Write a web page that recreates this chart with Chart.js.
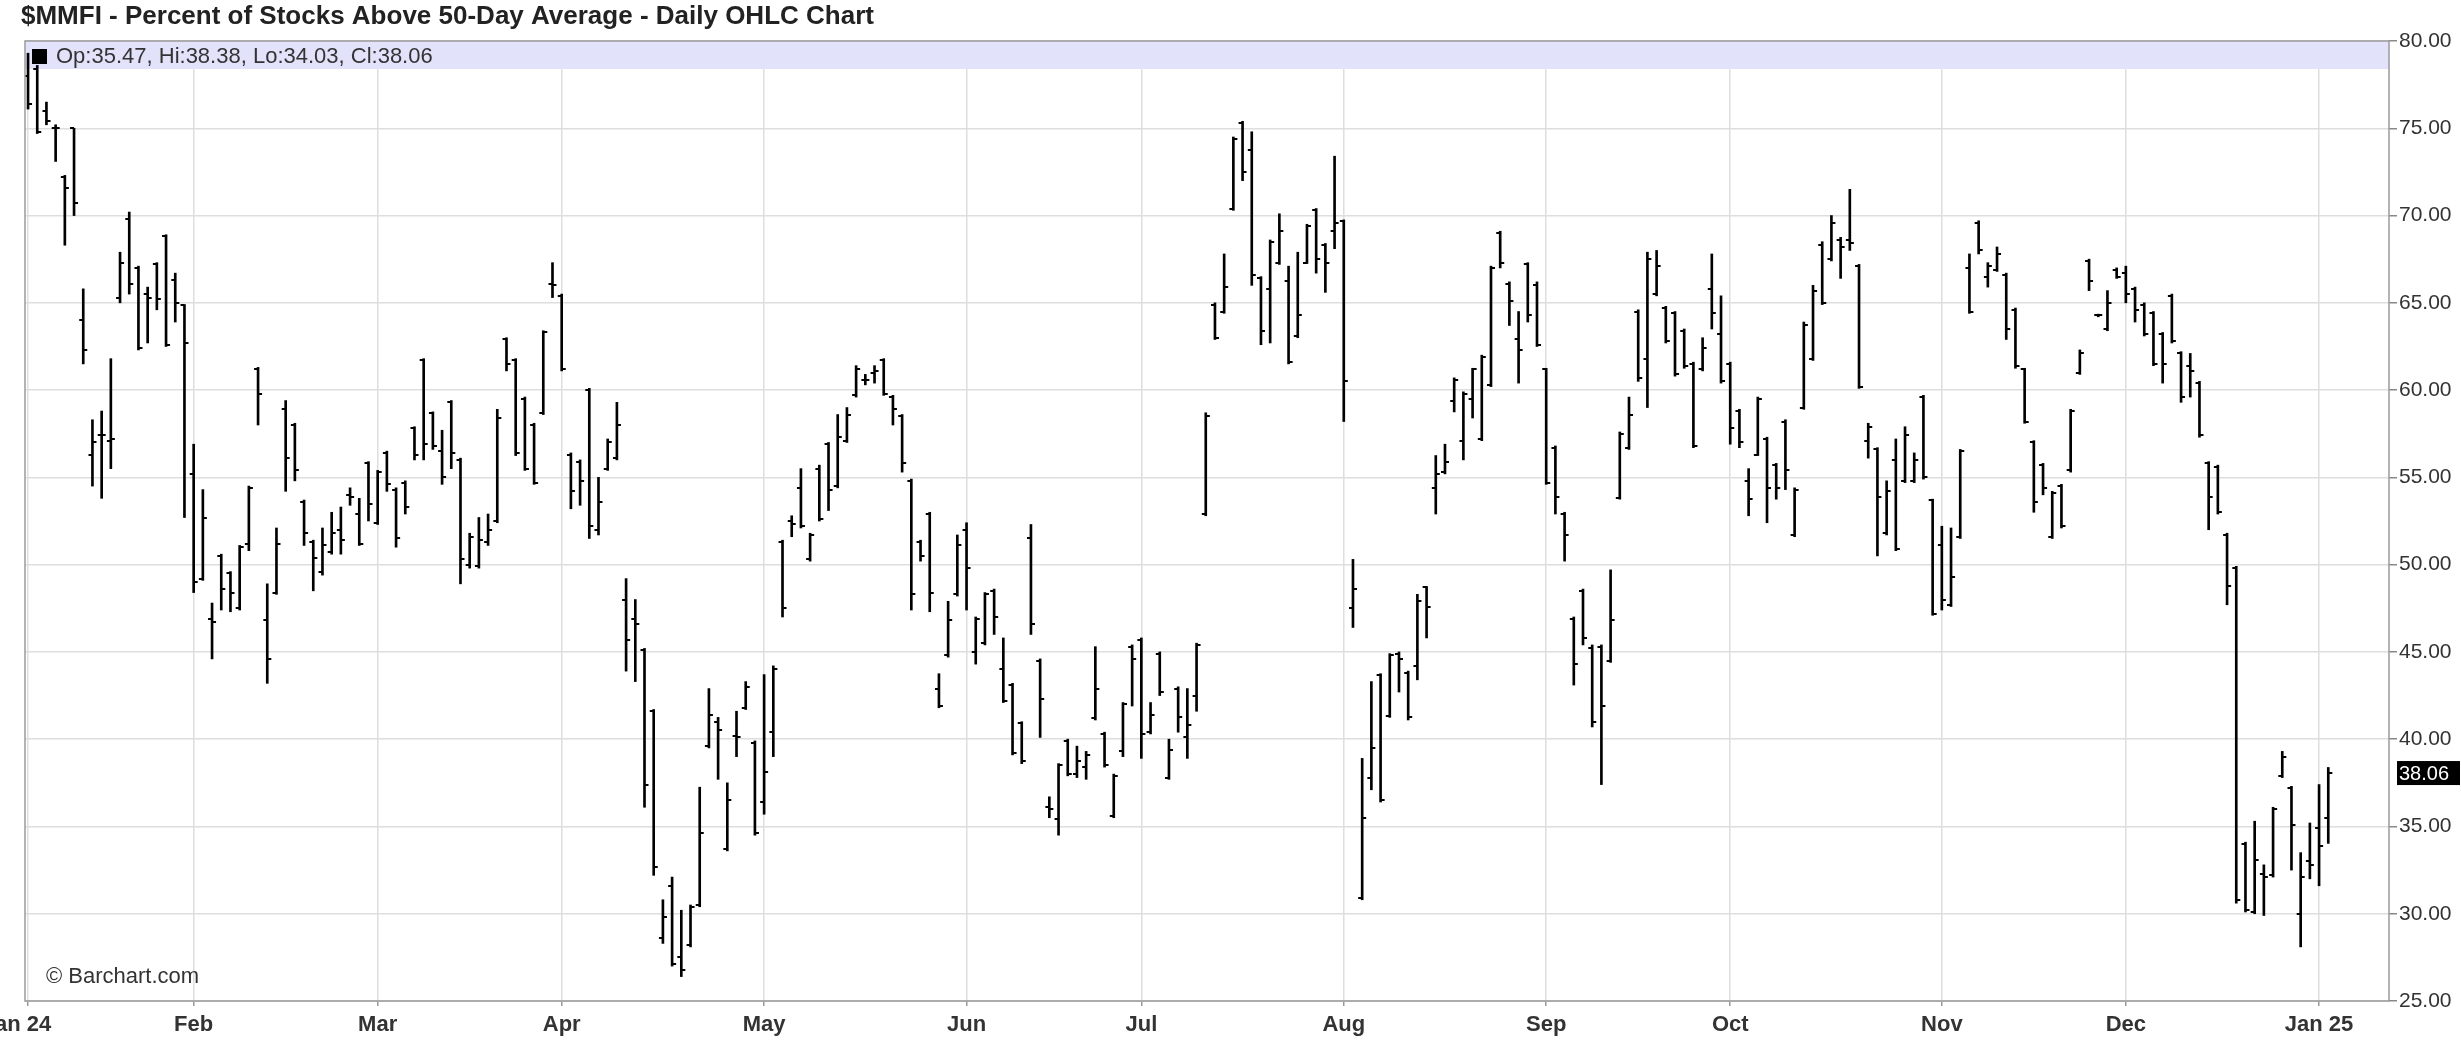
<!DOCTYPE html>
<html>
<head>
<meta charset="utf-8">
<title>$MMFI - Daily OHLC</title>
<script src="https://cdn.jsdelivr.net/npm/chart.js@4.4.1/dist/chart.umd.min.js"></script>
<style>
  html, body { margin: 0; padding: 0; background: #fff; }
  #wrap { width: 2461px; height: 1054px; }
</style>
</head>
<body>
<div id="wrap"><canvas id="ohlc" width="2461" height="1054"></canvas></div>
<script>
// ─── DATA (one entry per trading day, 5 Jan 2024 → 3 Jan 2025) ───
const opens = [
  78.0,78.4,76.0,75.0,72.2,75.0,64.0,56.3,57.4,57.1,65.3,69.8,67.0,65.5,67.2,68.8,66.3,64.9,
  55.2,49.2,46.9,50.5,49.5,47.5,51.2,61.2,46.8,48.4,58.9,58.0,53.6,51.3,49.6,50.7,52.0,54.0,52.9,55.8,52.4,56.4,
  54.3,54.7,57.8,61.7,58.7,56.5,59.3,56.0,50.0,49.9,51.3,52.5,62.9,61.7,59.5,58.0,58.7,66.1,65.4,56.3,
  55.9,60.0,52.0,55.5,56.1,48.0,46.9,45.1,41.6,28.6,31.6,27.5,28.2,30.5,39.6,41.0,33.7,40.2,41.8,39.8,36.4,40.4,
  51.3,52.5,54.4,50.3,55.5,56.9,54.5,57.1,59.7,60.6,61.0,61.7,59.6,58.5,54.8,51.3,52.9,42.9,44.8,48.3,52.0,45.0,
  45.5,48.5,44.0,43.1,40.9,51.5,44.5,36.1,35.4,39.9,38.0,38.4,41.2,40.3,35.6,39.3,45.3,45.7,40.4,44.9,37.8,42.9,
  40.1,42.5,52.9,64.9,64.5,70.4,75.3,73.75,66.4,65.8,67.3,66.25,63.1,67.3,70.3,68.3,69.1,69.7,47.5,30.9,37.8,43.7,
  41.3,44.9,43.8,44.2,48.7,54.4,55.3,59.4,57.1,59.5,57.2,60.3,69.0,66.1,62.9,67.2,66.0,61.2,56.7,52.9,46.9,48.5,
  45.2,45.3,44.5,53.8,56.7,64.5,61.8,65.5,64.7,64.4,63.4,61.5,61.2,65.8,63.2,61.5,58.8,54.8,56.3,57.2,55.7,58.2,
  51.7,59.0,61.8,68.3,67.5,68.6,68.6,67.1,57.1,56.6,51.8,56.0,54.8,54.8,59.6,53.7,51.1,47.7,51.6,67.0,69.6,66.5,66.9,
  66.6,64.6,61.2,57.0,55.7,51.6,54.5,55.4,61.0,67.4,64.3,63.5,66.9,66.7,65.8,64.9,64.4,63.2,65.4,62.1,61.4,60.4,
  55.8,55.6,51.7,49.8,34.0,30.1,32.3,32.2,37.9,37.2,30.0,33.0,34.9,35.47
];
const highs = [
  79.3,78.6,76.5,75.2,72.3,75.0,65.8,58.3,58.8,61.8,67.9,70.2,67.1,65.9,67.3,68.9,66.7,64.9,
  56.9,54.3,47.8,50.6,49.6,51.1,54.5,61.3,48.9,52.1,59.4,58.1,53.7,51.4,52.1,53.0,53.3,54.4,53.8,55.9,55.4,56.5,
  54.4,54.8,57.9,61.8,58.75,57.7,59.4,56.1,51.8,52.7,52.9,58.9,63.0,61.8,59.6,58.1,63.4,67.3,65.5,56.4,
  56.0,60.1,55.0,57.2,59.3,49.2,48.0,45.2,41.7,30.8,32.1,30.2,30.5,37.25,42.9,41.25,37.5,41.6,43.3,39.9,43.7,44.2,
  51.4,52.8,55.5,51.8,55.7,57.0,58.6,59.0,61.4,60.9,61.4,61.8,59.7,58.6,54.9,51.4,53.0,43.75,47.9,51.7,52.4,47.0,
  48.4,48.6,45.8,43.2,41.0,52.3,44.6,36.7,38.6,40.0,39.6,39.3,45.3,40.4,38.0,42.1,45.4,45.8,42.1,45.0,40.0,43.0,
  42.9,45.5,58.7,65.0,67.8,74.5,75.4,74.8,66.5,68.6,70.1,67.1,67.9,69.5,70.4,68.4,73.4,69.75,50.3,38.9,43.3,43.75,
  44.9,45.0,43.9,48.3,48.75,56.25,56.9,60.7,59.9,61.25,62.0,67.1,69.1,66.2,64.5,67.3,66.2,61.25,56.8,53.0,47.0,48.6,
  45.4,45.4,49.7,57.6,59.6,64.6,67.9,68.0,64.8,64.5,63.5,61.6,63.0,67.8,65.4,61.6,58.9,55.5,59.6,57.3,55.8,58.3,
  54.4,63.9,66.0,68.5,70.0,68.75,71.5,67.2,58.1,56.7,54.8,57.2,57.9,56.4,59.7,53.75,52.2,52.1,56.6,67.8,69.7,67.3,68.2,
  66.7,64.7,61.25,57.1,55.8,54.2,54.6,58.9,62.3,67.5,64.35,65.7,67.0,67.1,65.9,65.0,64.5,63.3,65.5,62.2,62.1,60.5,
  55.9,55.7,51.8,49.9,34.1,35.3,32.8,36.1,39.3,37.3,33.5,35.2,37.4,38.38
];
const lows = [
  76.1,74.7,75.2,73.1,68.3,70.0,61.5,54.5,53.8,55.5,65.0,65.5,62.3,62.7,64.6,62.5,63.9,52.7,
  48.4,49.1,44.6,47.4,47.3,47.4,50.8,58.0,43.2,48.3,54.2,54.8,51.1,48.5,49.4,50.6,50.6,53.4,51.1,52.5,52.3,54.2,
  51.0,52.9,56.0,56.0,56.6,54.6,55.5,48.9,49.8,49.8,51.1,52.4,61.1,56.25,55.4,54.6,58.6,65.3,61.1,53.2,
  53.4,51.5,51.7,55.4,56.0,43.9,43.3,36.1,32.2,28.3,27.0,26.4,28.1,30.4,39.5,37.7,33.6,39.0,41.7,34.5,35.7,39.0,
  47.0,51.6,52.1,50.2,52.5,53.1,54.4,57.0,59.6,60.3,60.4,59.7,58.0,55.3,47.4,50.2,47.3,41.8,44.7,48.2,47.4,44.3,
  45.4,46.0,42.1,39.1,38.6,46.0,40.1,35.5,34.5,37.9,37.8,37.7,41.1,38.4,35.5,39.0,41.9,38.9,40.3,42.5,37.7,40.4,
  38.9,41.6,52.8,62.9,64.4,70.3,72.0,66.0,62.6,62.7,67.2,61.5,63.0,67.25,66.7,65.6,68.1,58.2,46.4,30.8,37.1,36.4,
  41.25,42.7,41.1,43.4,45.8,52.9,55.2,58.75,56.0,58.4,57.1,60.2,67.0,63.7,60.4,63.9,62.5,54.6,52.9,50.2,43.1,45.4,
  40.7,37.4,44.4,53.75,56.6,60.5,59.0,65.4,62.7,60.8,61.25,56.7,61.1,63.5,60.4,56.9,56.7,52.8,56.25,52.4,53.75,54.3,
  51.6,58.9,61.7,64.9,67.4,66.4,68.0,60.1,56.1,50.5,51.7,50.8,54.7,54.7,54.9,47.1,47.4,47.6,51.5,64.4,67.8,65.9,66.8,
  62.9,61.25,58.1,53.0,54.0,51.5,52.1,55.3,60.9,65.7,64.2,63.4,66.4,65.0,63.9,63.1,61.4,60.4,62.7,59.3,59.6,57.3,
  52.0,52.9,47.7,30.6,30.1,30.0,29.9,32.1,37.8,32.5,28.1,32.0,31.6,34.03
];
const closes = [
  76.4,74.8,75.4,75.0,71.6,70.7,62.3,57.0,57.4,57.2,67.3,66.1,62.4,65.3,65.2,62.6,65.0,62.7,
  49.0,52.7,46.7,48.6,48.4,51.0,54.4,59.8,44.6,51.2,56.1,55.4,51.8,50.4,51.1,51.8,51.4,53.9,51.2,53.5,55.3,54.6,
  51.5,53.3,56.3,56.9,56.8,55.0,56.4,50.3,51.6,51.4,52.0,58.4,61.5,56.4,55.5,54.7,63.3,66.0,61.2,54.2,
  54.8,52.2,53.6,57.0,58.0,45.7,46.6,37.4,32.7,29.8,27.1,26.8,30.4,34.6,41.4,40.5,36.5,40.1,43.0,34.6,38.1,44.0,
  47.5,52.3,52.2,51.7,52.6,54.3,57.3,58.6,61.2,60.6,61.1,59.8,58.9,55.8,48.3,50.5,48.4,41.9,46.8,51.1,49.8,46.9,
  48.3,47.0,42.2,39.2,38.75,46.6,42.3,36.0,38.5,38.0,38.75,39.1,42.9,38.5,37.9,42.0,44.6,40.3,41.4,42.7,39.4,41.25,
  40.8,45.4,58.5,63.0,65.9,74.4,72.5,66.6,63.4,68.5,69.1,61.6,64.3,69.4,67.5,67.3,69.6,60.5,48.6,35.5,39.5,36.5,
  44.8,44.6,41.25,47.9,47.6,55.2,55.9,60.6,59.8,61.2,61.9,67.0,67.3,65.1,62.3,64.3,62.6,54.7,53.9,51.7,44.3,45.8,
  41.0,41.9,46.8,57.5,58.6,60.7,67.5,67.1,62.8,60.9,61.4,56.8,62.4,64.4,60.5,57.8,57.0,53.75,59.5,54.4,54.4,55.4,
  54.3,63.75,65.7,65.0,69.6,68.2,68.4,60.2,57.9,53.9,54.2,50.9,57.4,56.0,55.0,47.2,48.0,49.3,56.5,64.5,68.0,67.1,67.8,
  63.5,61.4,58.2,53.6,54.4,54.1,52.2,58.8,62.1,66.25,64.3,65.0,66.5,65.5,64.6,63.2,61.5,61.5,62.8,59.6,61.1,57.4,
  53.9,53.0,48.8,30.8,30.2,33.1,32.1,36.0,39.0,35.1,32.1,32.8,33.9,38.06
];

// month gridlines sit on the first trading day of each month
const monthStarts = [0, 18, 38, 58, 80, 102, 121, 143, 165, 185, 208, 228, 249];
const monthNames  = ['Jan 24','Feb','Mar','Apr','May','Jun','Jul','Aug','Sep','Oct','Nov','Dec','Jan 25'];

const yTicksMin = 25, yTicksMax = 80, yStep = 5;

// ─── TICK MARK IMAGES (open = left, close = right) ─────────
function tickImage(side) {
  const c = document.createElement('canvas');
  c.width = 10; c.height = 2;
  const g = c.getContext('2d');
  g.fillStyle = '#000';
  g.fillRect(side === 'left' ? 1 : 5, 0, 4, 2);
  return c;
}

// ─── DECORATION PLUGIN ─────────────────────────────────────
const FONT = '"Liberation Sans", Arial, sans-serif';
const decor = {
  id: 'decor',
  beforeDatasetsDraw(chart) {
    const { ctx, chartArea: a } = chart;
    ctx.save();
    ctx.fillStyle = '#e2e2fa';
    ctx.fillRect(a.left, a.top, a.right - a.left, 28);
    ctx.restore();
  },
  afterDatasetsDraw(chart) {
    const { ctx, chartArea: a, scales } = chart;
    const last = closes.length - 1;
    ctx.save();

    // plot frame
    ctx.strokeStyle = '#9a9a9a';
    ctx.lineWidth = 1.5;
    ctx.strokeRect(a.left, a.top, a.right - a.left, a.bottom - a.top);

    // legend strip
    ctx.fillStyle = '#000';
    ctx.fillRect(a.left + 7, a.top + 8, 15, 15);
    ctx.fillStyle = '#333';
    ctx.font = `22px ${FONT}`;
    ctx.textBaseline = 'middle';
    ctx.textAlign = 'left';
    ctx.fillText(`Op:${opens[last]}, Hi:${highs[last]}, Lo:${lows[last]}, Cl:${closes[last].toFixed(2)}`, a.left + 31, a.top + 16);

    // copyright
    ctx.font = `22px ${FONT}`;
    ctx.fillText('\u00A9 Barchart.com', a.left + 21, a.bottom - 24);

    // month labels (the first one hangs off the left edge, as on the site)
    ctx.font = `bold 22px ${FONT}`;
    ctx.fillStyle = '#333';
    ctx.textAlign = 'center';
    monthStarts.forEach((idx, k) => {
      const shift = k === 0 ? -11 : 0;
      ctx.fillText(monthNames[k], scales.x.getPixelForValue(idx) + shift, a.bottom + 24);
    });

    // last price flag
    const py = scales.y.getPixelForValue(closes[last]);
    ctx.fillStyle = '#000';
    ctx.fillRect(a.right + 8, py - 12, 63, 24);
    ctx.fillStyle = '#fff';
    ctx.font = `20px ${FONT}`;
    ctx.textAlign = 'left';
    ctx.fillText(closes[last].toFixed(2), a.right + 10, py + 1);

    // title
    ctx.fillStyle = '#222';
    ctx.font = `bold 26px ${FONT}`;
    ctx.fillText('$MMFI - Percent of Stocks Above 50-Day Average - Daily OHLC Chart', 21, 17);
    ctx.restore();
  }
};

// ─── CHART ─────────────────────────────────────────────────
new Chart(document.getElementById('ohlc'), {
  data: {
    datasets: [
      {
        type: 'bar',
        data: highs.map((h, i) => ({ x: i, y: [lows[i], h] })),
        backgroundColor: '#000',
        barThickness: 2,
        grouped: false,
        borderWidth: 0,
      },
      {
        type: 'line',
        data: opens.map((o, i) => ({ x: i, y: o })),
        showLine: false,
        pointStyle: tickImage('left'),
      },
      {
        type: 'line',
        data: closes.map((c, i) => ({ x: i, y: c })),
        showLine: false,
        pointStyle: tickImage('right'),
      },
    ],
  },
  options: {
    responsive: false,
    animation: false,
    devicePixelRatio: 1,
    layout: { padding: { left: 25, top: 41, right: 0, bottom: 0 } },
    plugins: { legend: { display: false }, tooltip: { enabled: false } },
    scales: {
      x: {
        type: 'linear',
        offset: false,
        min: -0.33,
        max: 256.6,
        afterBuildTicks: s => { s.ticks = monthStarts.map(v => ({ value: v })); },
        afterFit: s => { s.height = 53; },
        ticks: { display: false },
        grid: { offset: false, color: '#dedede', lineWidth: 1.5, tickLength: 5, tickColor: '#999' },
        border: { display: false },
      },
      y: {
        position: 'right',
        min: yTicksMin,
        max: yTicksMax,
        afterFit: s => { s.width = 72; },
        ticks: {
          stepSize: yStep,
          padding: 2,
          color: '#333',
          font: { family: FONT, size: 21 },
          callback: v => v.toFixed(2),
        },
        grid: { color: '#dedede', lineWidth: 1.5, tickLength: 8, tickColor: '#888' },
        border: { display: false },
      },
    },
  },
  plugins: [decor],
});
</script>
</body>
</html>
